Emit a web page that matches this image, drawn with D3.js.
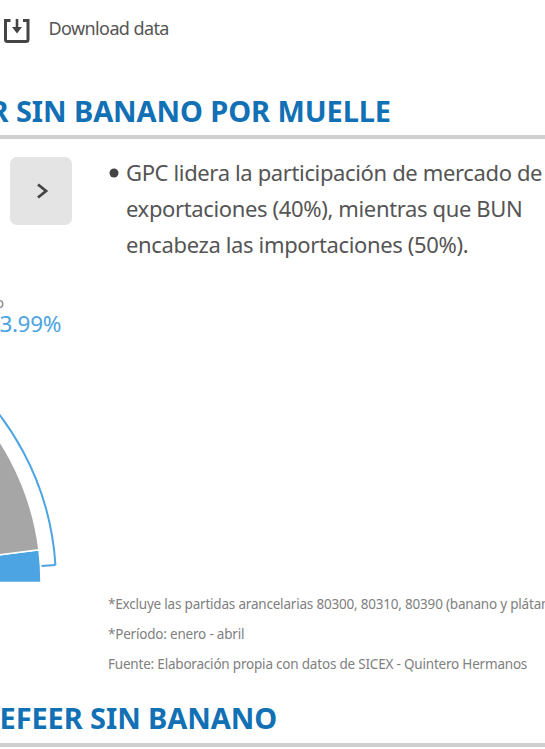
<!DOCTYPE html>
<html>
<head>
<meta charset="utf-8">
<script src="https://cdn.jsdelivr.net/npm/d3@7"></script>
<style>
    html, body { margin: 0; padding: 0; background: #fff; overflow: hidden; }
    svg { display: block; }
    text { font-family: "Noto Sans", "Open Sans", sans-serif; }
</style>
</head>
<body>
<div id="chart"></div>
<script>
// Visible slices of the half donut, in percent
const sliceNames = ['Otro', 'Resto'];
const sliceValues = [3.99, 96.01];
const sliceColors = ['#4ca4e3', '#a6a6a6'];
// Where the highlight outline starts and ends, in percent of the half circle
const outlineRange = [2, 60];

const downloadLabel = 'Download data';
const titleTop = 'REFEER SIN BANANO POR MUELLE';
const titleBottom = 'REFEER SIN BANANO';
const bulletLines = [
    'GPC lidera la participación de mercado de',
    'exportaciones (40%), mientras que BUN',
    'encabeza las importaciones (50%).'
];
const footNotes = [
    '*Excluye las partidas arancelarias 80300, 80310, 80390 (banano y plátano)',
    '*Período: enero - abril',
    'Fuente: Elaboración propia con datos de SICEX - Quintero Hermanos'
];

const width = 545;
const height = 749;

const svg = d3.select('#chart')
    .append('svg')
    .attr('width', width)
    .attr('height', height);

// Download icon
const icon = svg.append('g').attr('fill', 'none').attr('stroke', '#444').attr('stroke-width', 3);
icon.append('path')
    .attr('d', 'M10.5,20.5H5.5V39.5a2,2 0 0 0 2,2H26a2,2 0 0 0 2,-2V20.5H23');
icon.append('path')
    .attr('d', 'M17,19V30').attr('stroke-width', 2.6);
svg.append('path')
    .attr('d', 'M12,27H22L17,33.5Z')
    .attr('fill', '#444');

svg.append('text')
    .attr('x', 48.5)
    .attr('y', 35)
    .attr('font-size', 18)
    .attr('letter-spacing', -0.6)
    .attr('fill', '#555')
    .text(downloadLabel);

// Section titles and their rules
const titles = [
    { text: titleTop, x: 391, y: 122, rule: 137 },
    { text: titleBottom, x: 277, y: 729, rule: 745 }
];
svg.selectAll('.title')
    .data(titles)
    .join('text')
    .attr('class', 'title')
    .attr('x', d => d.x)
    .attr('y', d => d.y)
    .attr('text-anchor', 'end')
    .attr('font-size', 29)
    .attr('font-weight', 700)
    .attr('letter-spacing', -0.1)
    .attr('fill', '#1270b5')
    .text(d => d.text);
svg.selectAll('.rule')
    .data(titles)
    .join('rect')
    .attr('class', 'rule')
    .attr('x', 0)
    .attr('y', d => d.rule - 2)
    .attr('width', width)
    .attr('height', 4)
    .attr('fill', '#d0cece');

// Next button
svg.append('rect')
    .attr('x', 10)
    .attr('y', 157)
    .attr('width', 62)
    .attr('height', 68)
    .attr('rx', 7)
    .attr('fill', '#e4e4e4');
svg.append('path')
    .attr('d', 'M38,184.5L46,191L38,197.5')
    .attr('fill', 'none')
    .attr('stroke', '#444')
    .attr('stroke-width', 2.8);

// Comment text
svg.append('circle')
    .attr('cx', 114)
    .attr('cy', 173)
    .attr('r', 4.5)
    .attr('fill', '#444');
svg.selectAll('.bullet')
    .data(bulletLines)
    .join('text')
    .attr('class', 'bullet')
    .attr('x', 126)
    .attr('y', (d, i) => 181 + i * 36)
    .attr('font-size', 22)
    .attr('letter-spacing', -0.36)
    .attr('fill', '#555')
    .text(d => d);

// Half donut: 0 at the right end of the baseline, going counter clockwise
const cx = -221;
const cy = 582.5;
const radius = 262;
const outlineRadius = radius + 15;
const pieGroup = svg.append('g').attr('transform', `translate(${cx},${cy})`);

const pie = d3.pie()
    .value(d => d)
    .sort(null)
    .startAngle(Math.PI / 2)
    .endAngle(-Math.PI / 2);
const arc = d3.arc().innerRadius(0).outerRadius(radius);

pieGroup.selectAll('.slice')
    .data(pie(sliceValues))
    .join('path')
    .attr('class', 'slice')
    .attr('d', arc)
    .attr('fill', (d, i) => sliceColors[i])
    .attr('stroke', '#fff')
    .attr('stroke-width', 1.5);

// Highlight outline: an outer arc with a short radial tick at its start, no inner edge
const percentToAngle = d3.scaleLinear().domain([0, 100]).range([Math.PI / 2, -Math.PI / 2]);
pieGroup.append('path')
    .attr('d', d3.arc().innerRadius(outlineRadius).outerRadius(outlineRadius)
        .startAngle(percentToAngle(outlineRange[0])).endAngle(percentToAngle(outlineRange[1]))())
    .attr('fill', 'none')
    .attr('stroke', sliceColors[0])
    .attr('stroke-width', 2);
pieGroup.append('path')
    .attr('d', d3.lineRadial()([
        [percentToAngle(outlineRange[0]), radius + 1],
        [percentToAngle(outlineRange[0]), outlineRadius]
    ]))
    .attr('fill', 'none')
    .attr('stroke', sliceColors[0])
    .attr('stroke-width', 2);

// Slice label
svg.append('text')
    .attr('x', 4)
    .attr('y', 308)
    .attr('text-anchor', 'end')
    .attr('font-size', 15)
    .attr('fill', '#888')
    .text(sliceNames[0]);
svg.append('text')
    .attr('x', 61)
    .attr('y', 332)
    .attr('text-anchor', 'end')
    .attr('font-size', 22.5)
    .attr('letter-spacing', -0.35)
    .attr('fill', sliceColors[0])
    .text(d3.format('.2f')(sliceValues[0]) + '%');

// Footnotes
svg.selectAll('.note')
    .data(footNotes)
    .join('text')
    .attr('class', 'note')
    .attr('x', 108)
    .attr('y', (d, i) => 609 + i * 30)
    .attr('font-size', 13.5)
    .attr('letter-spacing', -0.2)
    .attr('fill', '#808080')
    .text(d => d);
</script>
</body>
</html>
